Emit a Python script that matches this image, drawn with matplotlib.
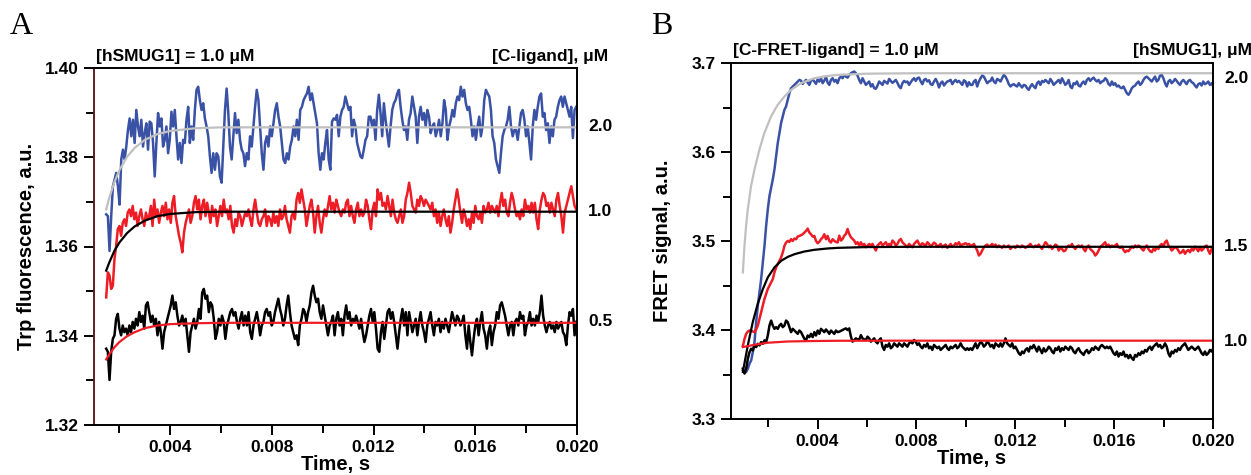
import numpy as np
import matplotlib
matplotlib.use("Agg")
import matplotlib.pyplot as plt
from matplotlib.ticker import FixedLocator
import matplotlib.transforms as mtransforms

# ---------------- Panel A data (Trp fluorescence) ----------------
a_t_start, a_t_end = 0.00148, 0.01997
a_blue = [1.3672, 1.3668, 1.3590, 1.3668, 1.3735, 1.3750, 1.3765, 1.3735, 1.3694, 1.3795, 1.3817, 1.3795, 1.3824, 1.3861, 1.3887, 1.3847, 1.3884, 1.3832, 1.3906, 1.3869, 1.3847, 1.3884, 1.3824, 1.3854, 1.3876, 1.3817, 1.3880, 1.3876, 1.3832, 1.3757, 1.3832, 1.3899, 1.3869, 1.3887, 1.3824, 1.3839, 1.3869, 1.3809, 1.3839, 1.3902, 1.3869, 1.3906, 1.3847, 1.3795, 1.3832, 1.3787, 1.3839, 1.3832, 1.3884, 1.3913, 1.3832, 1.3869, 1.3839, 1.3906, 1.3951, 1.3958, 1.3928, 1.3906, 1.3921, 1.3887, 1.3869, 1.3847, 1.3802, 1.3765, 1.3809, 1.3772, 1.3809, 1.3802, 1.3757, 1.3743, 1.3824, 1.3906, 1.3954, 1.3899, 1.3824, 1.3795, 1.3847, 1.3899, 1.3854, 1.3884, 1.3839, 1.3817, 1.3809, 1.3780, 1.3809, 1.3795, 1.3847, 1.3824, 1.3869, 1.3913, 1.3951, 1.3928, 1.3869, 1.3809, 1.3772, 1.3832, 1.3847, 1.3824, 1.3869, 1.3847, 1.3876, 1.3906, 1.3921, 1.3891, 1.3869, 1.3832, 1.3795, 1.3787, 1.3809, 1.3795, 1.3824, 1.3839, 1.3869, 1.3847, 1.3884, 1.3839, 1.3906, 1.3913, 1.3928, 1.3936, 1.3943, 1.3958, 1.3928, 1.3943, 1.3921, 1.3899, 1.3876, 1.3809, 1.3772, 1.3809, 1.3795, 1.3832, 1.3861, 1.3795, 1.3772, 1.3880, 1.3887,
          1.3884, 1.3895, 1.3847, 1.3891, 1.3906, 1.3913, 1.3936, 1.3921, 1.3906, 1.3913, 1.3847, 1.3884, 1.3869, 1.3832, 1.3817, 1.3802, 1.3798, 1.3817, 1.3839, 1.3847, 1.3891, 1.3891, 1.3869, 1.3884, 1.3839, 1.3906, 1.3940, 1.3899, 1.3847, 1.3921, 1.3884, 1.3854, 1.3824, 1.3869, 1.3906, 1.3921, 1.3928, 1.3943, 1.3951, 1.3913, 1.3884, 1.3861, 1.3869, 1.3839, 1.3884, 1.3899, 1.3936, 1.3913, 1.3891, 1.3832, 1.3891, 1.3913, 1.3884, 1.3899, 1.3869, 1.3906, 1.3891, 1.3854, 1.3869, 1.3876, 1.3847, 1.3861, 1.3884, 1.3847, 1.3876, 1.3928, 1.3906, 1.3839, 1.3869, 1.3884, 1.3906, 1.3891, 1.3921, 1.3936, 1.3928, 1.3958, 1.3936, 1.3951, 1.3921, 1.3906, 1.3913, 1.3884, 1.3847, 1.3869, 1.3839, 1.3869, 1.3891, 1.3847, 1.3869, 1.3928, 1.3951, 1.3943, 1.3936, 1.3906, 1.3847, 1.3832, 1.3795, 1.3780, 1.3765, 1.3809, 1.3847, 1.3861, 1.3869, 1.3884, 1.3913, 1.3869, 1.3847, 1.3861, 1.3861, 1.3839, 1.3869, 1.3899, 1.3906, 1.3884, 1.3847, 1.3869, 1.3832, 1.3795, 1.3869, 1.3906, 1.3884, 1.3913, 1.3936, 1.3943, 1.3891, 1.3899, 1.3861, 1.3876, 1.3832, 1.3869, 1.3847, 1.3884, 1.3891, 1.3913, 1.3928, 1.3936, 1.3913, 1.3936, 1.3921, 1.3906, 1.3891, 1.3913, 1.3843, 1.3906, 1.3913]
a_red = [1.3486, 1.3542, 1.3535, 1.3505, 1.3512, 1.3572, 1.3601, 1.3639, 1.3646, 1.3624, 1.3653, 1.3661, 1.3646, 1.3676, 1.3683, 1.3668, 1.3691, 1.3661, 1.3676, 1.3646, 1.3668, 1.3683, 1.3661, 1.3646, 1.3676, 1.3661, 1.3668, 1.3691, 1.3646, 1.3705, 1.3668, 1.3683, 1.3653, 1.3676, 1.3691, 1.3668, 1.3698, 1.3661, 1.3683, 1.3653, 1.3698, 1.3713, 1.3668, 1.3646, 1.3624, 1.3609, 1.3587, 1.3631, 1.3653, 1.3668, 1.3683, 1.3653, 1.3668, 1.3698, 1.3713, 1.3683, 1.3705, 1.3661, 1.3691, 1.3705, 1.3668, 1.3698, 1.3676, 1.3653, 1.3691, 1.3668, 1.3683, 1.3646, 1.3668, 1.3691, 1.3668, 1.3705, 1.3676, 1.3683, 1.3661, 1.3691, 1.3646, 1.3631, 1.3661, 1.3646, 1.3676, 1.3668, 1.3646, 1.3661, 1.3676, 1.3668, 1.3683, 1.3661, 1.3646, 1.3683, 1.3705, 1.3676, 1.3653, 1.3646, 1.3661, 1.3668, 1.3683, 1.3646, 1.3668, 1.3661, 1.3646, 1.3676, 1.3653, 1.3668, 1.3646, 1.3683, 1.3661, 1.3668, 1.3691, 1.3661, 1.3646, 1.3631, 1.3668, 1.3676, 1.3661, 1.3705, 1.3720, 1.3698, 1.3728, 1.3705, 1.3683, 1.3646, 1.3668, 1.3691, 1.3705, 1.3676, 1.3631, 1.3668, 1.3691, 1.3653, 1.3631, 1.3661, 1.3683, 1.3668, 1.3691, 1.3713, 1.3683, 1.3698, 1.3676, 1.3705,
         1.3691, 1.3676, 1.3668, 1.3683, 1.3676, 1.3698, 1.3705, 1.3668, 1.3691, 1.3668, 1.3653, 1.3683, 1.3698, 1.3668, 1.3683, 1.3668, 1.3676, 1.3705, 1.3691, 1.3661, 1.3639, 1.3683, 1.3698, 1.3668, 1.3728, 1.3705, 1.3720, 1.3691, 1.3698, 1.3683, 1.3713, 1.3691, 1.3668, 1.3705, 1.3676, 1.3661, 1.3653, 1.3668, 1.3683, 1.3653, 1.3668, 1.3705, 1.3720, 1.3743, 1.3720, 1.3691, 1.3683, 1.3676, 1.3705, 1.3691, 1.3713, 1.3705, 1.3691, 1.3705, 1.3698, 1.3691, 1.3683, 1.3698, 1.3668, 1.3683, 1.3653, 1.3676, 1.3646, 1.3668, 1.3683, 1.3661, 1.3646, 1.3668, 1.3631, 1.3653, 1.3683, 1.3705, 1.3728, 1.3705, 1.3676, 1.3653, 1.3683, 1.3668, 1.3646, 1.3661, 1.3639, 1.3676, 1.3653, 1.3691, 1.3668, 1.3661, 1.3676, 1.3653, 1.3691, 1.3676, 1.3683, 1.3698, 1.3676, 1.3691, 1.3683, 1.3676, 1.3691, 1.3668, 1.3698, 1.3720, 1.3691, 1.3705, 1.3676, 1.3668, 1.3698, 1.3720, 1.3705, 1.3683, 1.3668, 1.3676, 1.3661, 1.3683, 1.3668, 1.3705, 1.3683, 1.3691, 1.3676, 1.3698, 1.3676, 1.3698, 1.3661, 1.3639, 1.3683, 1.3705, 1.3720, 1.3713, 1.3691, 1.3698, 1.3676, 1.3698, 1.3683, 1.3668, 1.3705, 1.3720, 1.3691, 1.3668, 1.3631, 1.3676, 1.3691, 1.3705, 1.3720, 1.3735, 1.3713, 1.3691, 1.3683]
a_black = [1.3371, 1.3364, 1.3301, 1.3364, 1.3393, 1.3401, 1.3438, 1.3449, 1.3416, 1.3401, 1.3423, 1.3408, 1.3416, 1.3401, 1.3423, 1.3408, 1.3431, 1.3416, 1.3438, 1.3423, 1.3453, 1.3431, 1.3445, 1.3416, 1.3468, 1.3475, 1.3453, 1.3431, 1.3445, 1.3423, 1.3438, 1.3401, 1.3431, 1.3408, 1.3371, 1.3408, 1.3423, 1.3438, 1.3453, 1.3468, 1.3490, 1.3460, 1.3475, 1.3445, 1.3423, 1.3431, 1.3445, 1.3423, 1.3438, 1.3401, 1.3364, 1.3408, 1.3423, 1.3438, 1.3416, 1.3431, 1.3460, 1.3438, 1.3497, 1.3505, 1.3483, 1.3490, 1.3453, 1.3475, 1.3468, 1.3438, 1.3393, 1.3408, 1.3438, 1.3423, 1.3445, 1.3431, 1.3393, 1.3423, 1.3438, 1.3453, 1.3460, 1.3445, 1.3453, 1.3431, 1.3416, 1.3438, 1.3453, 1.3423, 1.3445, 1.3423, 1.3453, 1.3408, 1.3393, 1.3423, 1.3438, 1.3453, 1.3431, 1.3401, 1.3423, 1.3431, 1.3453, 1.3460, 1.3445, 1.3453, 1.3423, 1.3431, 1.3453, 1.3468, 1.3483, 1.3460, 1.3445, 1.3423, 1.3438, 1.3468, 1.3490, 1.3453, 1.3423, 1.3408, 1.3393, 1.3401, 1.3379, 1.3423, 1.3438, 1.3460, 1.3453, 1.3431, 1.3453, 1.3468, 1.3497, 1.3512, 1.3490, 1.3475, 1.3483, 1.3453, 1.3438, 1.3468, 1.3445, 1.3423, 1.3401, 1.3423, 1.3431, 1.3445, 1.3401, 1.3438,
           1.3453, 1.3423, 1.3438, 1.3401, 1.3445, 1.3468, 1.3438, 1.3453, 1.3423, 1.3438, 1.3431, 1.3445, 1.3431, 1.3416, 1.3438, 1.3408, 1.3386, 1.3401, 1.3423, 1.3445, 1.3460, 1.3431, 1.3453, 1.3416, 1.3371, 1.3364, 1.3408, 1.3431, 1.3393, 1.3423, 1.3453, 1.3460, 1.3438, 1.3453, 1.3431, 1.3401, 1.3371, 1.3408, 1.3438, 1.3460, 1.3423, 1.3453, 1.3401, 1.3453, 1.3431, 1.3408, 1.3423, 1.3438, 1.3401, 1.3431, 1.3453, 1.3423, 1.3408, 1.3386, 1.3423, 1.3438, 1.3453, 1.3423, 1.3401, 1.3431, 1.3423, 1.3438, 1.3408, 1.3431, 1.3416, 1.3438, 1.3423, 1.3408, 1.3431, 1.3453, 1.3438, 1.3423, 1.3445, 1.3438, 1.3423, 1.3431, 1.3445, 1.3401, 1.3371, 1.3423, 1.3386, 1.3356, 1.3393, 1.3423, 1.3438, 1.3401, 1.3431, 1.3453, 1.3416, 1.3401, 1.3371, 1.3408, 1.3423, 1.3379, 1.3408, 1.3423, 1.3453, 1.3438, 1.3468, 1.3475, 1.3460, 1.3445, 1.3423, 1.3401, 1.3423, 1.3431, 1.3401, 1.3431, 1.3438, 1.3423, 1.3453, 1.3438, 1.3445, 1.3401, 1.3423, 1.3431, 1.3453, 1.3423, 1.3438, 1.3423, 1.3445, 1.3431, 1.3453, 1.3490, 1.3445, 1.3423, 1.3408, 1.3423, 1.3431, 1.3416, 1.3423, 1.3408, 1.3431, 1.3416, 1.3423, 1.3431, 1.3408, 1.3401, 1.3379, 1.3423, 1.3453, 1.3445, 1.3460, 1.3401, 1.3431]

a_fit_t = [0.00148, 0.0016, 0.0018, 0.0020, 0.0023, 0.0026, 0.0030, 0.0035, 0.0040, 0.0050, 0.0060, 0.0080, 0.0200]
a_fit_gray = [1.3683, 1.3709, 1.3744, 1.3771, 1.3801, 1.3821, 1.3839, 1.3852, 1.3859, 1.3865, 1.3867, 1.3867, 1.3867]
a_fit_black = [1.3546, 1.3564, 1.3590, 1.3609, 1.3630, 1.3645, 1.3658, 1.3668, 1.3673, 1.3677, 1.3678, 1.3678, 1.3678]
a_fit_red = [1.3347, 1.3358, 1.3374, 1.3386, 1.3399, 1.3408, 1.3417, 1.3423, 1.3426, 1.3428, 1.3429, 1.3429, 1.3429]
a_conc_labels = ["2.0", "1.0", "0.5"]
a_conc_levels = [1.3870, 1.3678, 1.3431]

# ---------------- Panel B data (FRET signal) ----------------
b_t_start, b_t_end = 0.00098, 0.02001
b_blue = [3.3547, 3.3528, 3.3528, 3.3566, 3.3622, 3.3659, 3.3752, 3.3864, 3.4088, 3.4274, 3.4423, 3.4572, 3.4759, 3.4945, 3.5169, 3.5355, 3.5505, 3.5598, 3.5691, 3.5803, 3.5952, 3.6101, 3.6213, 3.6325, 3.6400, 3.6474, 3.6512, 3.6586, 3.6661, 3.6717, 3.6735, 3.6754, 3.6773, 3.6791, 3.6810, 3.6802, 3.6765, 3.6791, 3.6810, 3.6780, 3.6754, 3.6802, 3.6817, 3.6791, 3.6765, 3.6817, 3.6791, 3.6829, 3.6773, 3.6802, 3.6847, 3.6780, 3.6754, 3.6810, 3.6829, 3.6791, 3.6810, 3.6773,
          3.6829, 3.6847, 3.6829, 3.6866, 3.6847, 3.6836, 3.6866, 3.6885, 3.6896, 3.6904, 3.6885, 3.6858, 3.6810, 3.6773, 3.6829, 3.6792, 3.6754, 3.6773, 3.6792, 3.6736, 3.6762, 3.6717, 3.6710, 3.6747, 3.6792, 3.6773, 3.6754, 3.6799, 3.6784, 3.6769, 3.6821, 3.6799, 3.6777, 3.6792, 3.6810, 3.6777, 3.6736, 3.6717, 3.6773, 3.6799, 3.6784, 3.6792, 3.6754, 3.6784, 3.6810, 3.6829, 3.6799, 3.6829, 3.6836, 3.6792, 3.6762, 3.6810, 3.6821, 3.6792, 3.6806, 3.6762, 3.6754, 3.6792, 3.6821, 3.6784, 3.6725, 3.6773, 3.6792, 3.6747, 3.6773, 3.6792, 3.6799, 3.6810, 3.6762, 3.6792, 3.6810, 3.6784, 3.6799, 3.6777, 3.6754, 3.6806, 3.6792, 3.6736, 3.6784, 3.6754,
          3.6754, 3.6792, 3.6810, 3.6736, 3.6792, 3.6829, 3.6859, 3.6847, 3.6810, 3.6773, 3.6792, 3.6799, 3.6836, 3.6792, 3.6773, 3.6821, 3.6810, 3.6792, 3.6829, 3.6866, 3.6847, 3.6810, 3.6762, 3.6736, 3.6754, 3.6762, 3.6747, 3.6736, 3.6773, 3.6747, 3.6725, 3.6754, 3.6747, 3.6717, 3.6698, 3.6736, 3.6762, 3.6736, 3.6717, 3.6773, 3.6792, 3.6754, 3.6799, 3.6785, 3.6810, 3.6792, 3.6773, 3.6821, 3.6792, 3.6754, 3.6773, 3.6792, 3.6810, 3.6773, 3.6829, 3.6792, 3.6754, 3.6773, 3.6810, 3.6736, 3.6717, 3.6773, 3.6762, 3.6792, 3.6747, 3.6736, 3.6773, 3.6792, 3.6762, 3.6810, 3.6829, 3.6799, 3.6821, 3.6836, 3.6810, 3.6792, 3.6810, 3.6773, 3.6792, 3.6799, 3.6829, 3.6810, 3.6762, 3.6747, 3.6792, 3.6754, 3.6773, 3.6736, 3.6747, 3.6725, 3.6717, 3.6736, 3.6698, 3.6661, 3.6643, 3.6672, 3.6717, 3.6736, 3.6747, 3.6773, 3.6792, 3.6754, 3.6773, 3.6810, 3.6836, 3.6847, 3.6829, 3.6810, 3.6792, 3.6821, 3.6847, 3.6792, 3.6810, 3.6859, 3.6866, 3.6829, 3.6773, 3.6736, 3.6792, 3.6810, 3.6773, 3.6792, 3.6821, 3.6799, 3.6773, 3.6754, 3.6792, 3.6810, 3.6785, 3.6762, 3.6799, 3.6810, 3.6785, 3.6773, 3.6747, 3.6725, 3.6762, 3.6773, 3.6747, 3.6792, 3.6762, 3.6773, 3.6792, 3.6754, 3.6773, 3.6736]
b_red = [3.3819, 3.3901, 3.3957, 3.3983, 3.3994, 3.3994, 3.3983, 3.3976, 3.4006, 3.4050, 3.4125, 3.4200, 3.4274, 3.4349, 3.4405, 3.4461, 3.4498, 3.4535, 3.4572, 3.4647, 3.4703, 3.4740, 3.4778, 3.4815, 3.4871, 3.4945, 3.4983, 3.5001, 3.4990, 3.5020, 3.5001, 3.5027, 3.5020, 3.5050, 3.5057, 3.5065, 3.5076, 3.5095, 3.5113, 3.5139, 3.5095, 3.5076, 3.5050, 3.5057, 3.5001, 3.4975, 3.4990, 3.5020, 3.5039, 3.5076, 3.5020, 3.5057, 3.5001, 3.4983, 3.5020, 3.5001, 3.4990, 3.4983,
         3.5060, 3.5005, 3.5023, 3.5060, 3.5079, 3.5135, 3.5079, 3.5042, 3.5023, 3.5005, 3.4967, 3.4986, 3.4949, 3.4986, 3.4949, 3.4967, 3.4930, 3.4949, 3.4967, 3.4949, 3.4967, 3.4930, 3.4893, 3.4949, 3.4967, 3.4986, 3.4949, 3.4967, 3.4986, 3.4949, 3.4967, 3.4949, 3.5005, 3.4986, 3.4949, 3.4967, 3.5005, 3.5023, 3.4986, 3.4967, 3.4949, 3.4930, 3.4967, 3.4949, 3.4930, 3.4967, 3.4986, 3.5005, 3.4967, 3.4949, 3.4975, 3.4960, 3.4949, 3.4986, 3.4967, 3.4937, 3.4960, 3.4982, 3.4967, 3.4937, 3.4949, 3.4967, 3.4930, 3.4949, 3.4960, 3.4923, 3.4945, 3.4967, 3.4937, 3.4949, 3.4975, 3.4960, 3.4986, 3.4949, 3.4960, 3.4967, 3.4975, 3.4960, 3.4967, 3.4949,
         3.4949, 3.4967, 3.4930, 3.4893, 3.4837, 3.4856, 3.4893, 3.4930, 3.4949, 3.4960, 3.4937, 3.4949, 3.4967, 3.4937, 3.4960, 3.4930, 3.4949, 3.4937, 3.4923, 3.4949, 3.4930, 3.4937, 3.4949, 3.4911, 3.4930, 3.4937, 3.4923, 3.4949, 3.4937, 3.4930, 3.4949, 3.4937, 3.4923, 3.4937, 3.4949, 3.4967, 3.4937, 3.4930, 3.4949, 3.4937, 3.4960, 3.4930, 3.4911, 3.4949, 3.4986, 3.4967, 3.4930, 3.4949, 3.4911, 3.4930, 3.4960, 3.4949, 3.4893, 3.4923, 3.4911, 3.4885, 3.4893, 3.4930, 3.4949, 3.4937, 3.4967, 3.4930, 3.4911, 3.4937, 3.4949, 3.4930, 3.4949, 3.4911, 3.4885, 3.4930, 3.4949, 3.4911, 3.4893, 3.4874, 3.4837, 3.4856, 3.4893, 3.4930, 3.4949, 3.4967, 3.4986, 3.4937, 3.4960, 3.4930, 3.4949, 3.4937, 3.4949, 3.4967, 3.4930, 3.4923, 3.4937, 3.4900, 3.4874, 3.4893, 3.4885, 3.4911, 3.4937, 3.4923, 3.4949, 3.4930, 3.4949, 3.4937, 3.4911, 3.4893, 3.4930, 3.4949, 3.4911, 3.4885, 3.4874, 3.4911, 3.4893, 3.4930, 3.4911, 3.4949, 3.4967, 3.4937, 3.4986, 3.5005, 3.4949, 3.4930, 3.4893, 3.4911, 3.4930, 3.4923, 3.4893, 3.4863, 3.4874, 3.4900, 3.4856, 3.4885, 3.4900, 3.4874, 3.4911, 3.4893, 3.4937, 3.4911, 3.4885, 3.4930, 3.4893, 3.4911, 3.4937, 3.4949, 3.4893, 3.4856, 3.4911, 3.4949]
b_black = [3.3566, 3.3510, 3.3566, 3.3677, 3.3752, 3.3789, 3.3771, 3.3827, 3.3808, 3.3845, 3.3827, 3.3864, 3.3845, 3.3883, 3.3864, 3.3938, 3.4050, 3.4106, 3.4050, 3.4013, 3.4032, 3.4013, 3.4050, 3.4069, 3.4032, 3.4050, 3.4106, 3.4088, 3.4032, 3.3976, 3.4013, 3.3994, 3.3976, 3.3957, 3.3994, 3.3976, 3.3938, 3.3901, 3.3883, 3.3938, 3.3920, 3.3957, 3.3920, 3.3976, 3.3938, 3.3994, 3.3957, 3.4013, 3.3994, 3.3976, 3.4006, 3.3983, 3.3957, 3.3994, 3.3976, 3.3957, 3.3994, 3.3976,
           3.3981, 3.3990, 3.4000, 3.4010, 3.4018, 3.4000, 3.4018, 3.3925, 3.3869, 3.3888, 3.3906, 3.3895, 3.3888, 3.3943, 3.3906, 3.3895, 3.3888, 3.3925, 3.3906, 3.3869, 3.3888, 3.3906, 3.3869, 3.3850, 3.3888, 3.3906, 3.3813, 3.3776, 3.3832, 3.3813, 3.3850, 3.3795, 3.3813, 3.3850, 3.3832, 3.3813, 3.3850, 3.3832, 3.3813, 3.3850, 3.3832, 3.3813, 3.3850, 3.3869, 3.3850, 3.3888, 3.3869, 3.3832, 3.3850, 3.3813, 3.3795, 3.3832, 3.3813, 3.3850, 3.3795, 3.3813, 3.3776, 3.3832, 3.3813, 3.3795, 3.3813, 3.3776, 3.3795, 3.3813, 3.3832, 3.3795, 3.3776, 3.3813, 3.3795, 3.3813, 3.3832, 3.3795, 3.3813, 3.3850, 3.3813, 3.3795, 3.3776, 3.3795, 3.3776, 3.3795,
           3.3776, 3.3813, 3.3850, 3.3795, 3.3832, 3.3869, 3.3850, 3.3813, 3.3832, 3.3869, 3.3850, 3.3813, 3.3832, 3.3795, 3.3850, 3.3832, 3.3813, 3.3850, 3.3813, 3.3850, 3.3906, 3.3850, 3.3832, 3.3813, 3.3850, 3.3795, 3.3813, 3.3776, 3.3739, 3.3720, 3.3758, 3.3739, 3.3776, 3.3795, 3.3758, 3.3813, 3.3795, 3.3832, 3.3795, 3.3758, 3.3813, 3.3776, 3.3739, 3.3795, 3.3758, 3.3776, 3.3813, 3.3795, 3.3758, 3.3739, 3.3795, 3.3776, 3.3813, 3.3758, 3.3795, 3.3776, 3.3813, 3.3795, 3.3776, 3.3813, 3.3795, 3.3758, 3.3739, 3.3776, 3.3795, 3.3758, 3.3739, 3.3720, 3.3758, 3.3776, 3.3739, 3.3758, 3.3795, 3.3776, 3.3813, 3.3795, 3.3776, 3.3813, 3.3832, 3.3813, 3.3795, 3.3813, 3.3795, 3.3813, 3.3776, 3.3739, 3.3720, 3.3758, 3.3702, 3.3739, 3.3720, 3.3758, 3.3702, 3.3720, 3.3683, 3.3720, 3.3683, 3.3664, 3.3720, 3.3702, 3.3739, 3.3720, 3.3758, 3.3739, 3.3776, 3.3758, 3.3795, 3.3813, 3.3776, 3.3813, 3.3832, 3.3850, 3.3813, 3.3832, 3.3795, 3.3813, 3.3850, 3.3813, 3.3739, 3.3702, 3.3758, 3.3739, 3.3776, 3.3758, 3.3795, 3.3776, 3.3813, 3.3832, 3.3850, 3.3813, 3.3776, 3.3795, 3.3813, 3.3795, 3.3776, 3.3795, 3.3813, 3.3776, 3.3739, 3.3720, 3.3758, 3.3720, 3.3739, 3.3776, 3.3758, 3.3795]

b_gray_t = [0.00098, 0.001045, 0.00111, 0.00118, 0.00131, 0.00145, 0.00165, 0.00185, 0.00212, 0.00239, 0.00266, 0.00293, 0.00333, 0.00387, 0.00441, 0.00482, 0.0060, 0.0080, 0.0200]
b_fit_gray = [3.4647, 3.4945, 3.5169, 3.5356, 3.5616, 3.5803, 3.6027, 3.6213, 3.6400, 3.6530, 3.6623, 3.6698, 3.6773, 3.6829, 3.6855, 3.6866, 3.6880, 3.6885, 3.6885]
b_black_t = [0.00098, 0.00118, 0.00138, 0.00158, 0.00179, 0.00199, 0.00226, 0.00253, 0.00280, 0.00307, 0.00347, 0.00387, 0.00441, 0.00482, 0.0060, 0.0080, 0.0200]
b_fit_black = [3.3529, 3.3827, 3.4088, 3.4293, 3.4461, 3.4592, 3.4704, 3.4778, 3.4822, 3.4852, 3.4882, 3.4901, 3.4916, 3.4923, 3.4932, 3.4935, 3.4935]
b_red_t = [0.00098, 0.00145, 0.00199, 0.00280, 0.00380, 0.00480, 0.0070, 0.0200]
b_fit_red = [3.3808, 3.3834, 3.3857, 3.3871, 3.3876, 3.3879, 3.3880, 3.3880]
b_conc_labels = ["2.0", "1.5", "1.0"]
b_conc_levels = [3.6830, 3.4935, 3.3872]

x_major = [0.004, 0.008, 0.012, 0.016, 0.020]
x_minor = [0.002, 0.006, 0.010, 0.014, 0.018]

# ---------------- styling ----------------
plt.rcParams['font.family'] = ['Liberation Sans', 'DejaVu Sans']
plt.rcParams['font.weight'] = 'bold'
BLUE = '#3a52a6'
RED = '#ee1c25'
GRAY = '#c0c0c0'
W, H = 1251, 475

fig = plt.figure(figsize=(W / 100, H / 100), dpi=100)
axA = fig.add_axes([94 / W, 1 - 425 / H, 483 / W, 357 / H])
axB = fig.add_axes([731 / W, 1 - 419 / H, 482 / W, 356 / H])


def style(ax, ymaj, ymin, yfmt):
    ax.xaxis.set_major_locator(FixedLocator(x_major))
    ax.xaxis.set_minor_locator(FixedLocator(x_minor))
    ax.set_xticklabels(['%.3f' % v for v in x_major])
    ax.yaxis.set_major_locator(FixedLocator(ymaj))
    ax.yaxis.set_minor_locator(FixedLocator(ymin))
    ax.set_yticklabels([yfmt % v for v in ymaj])
    ax.tick_params(which='both', direction='out', top=False, right=False,
                   width=1.4, labelsize=12.5, pad=4)
    ax.tick_params(which='major', length=7)
    ax.tick_params(which='minor', length=5.5)
    for lab in ax.get_xticklabels() + ax.get_yticklabels():
        lab.set_fontweight('bold')
    for s in ax.spines.values():
        s.set_linewidth(1.4)
    ax.set_xlabel('Time, s', fontsize=14.5, fontweight='bold', labelpad=0)


# ---- Panel A ----
tA = np.linspace(a_t_start, a_t_end, len(a_blue))
tAr = np.linspace(a_t_start, a_t_end, len(a_red))
tAk = np.linspace(a_t_start, a_t_end, len(a_black))
axA.plot(tA, a_blue, color=BLUE, lw=1.8)
axA.plot(tAr, a_red, color=RED, lw=1.8)
axA.plot(tAk, a_black, color='black', lw=1.8)
axA.plot(a_fit_t, a_fit_gray, color=GRAY, lw=1.6)
axA.plot(a_fit_t, a_fit_black, color='black', lw=1.6)
axA.plot(a_fit_t, a_fit_red, color=RED, lw=1.6)
axA.set_xlim(0.001, 0.020)
axA.set_ylim(1.32, 1.40)
style(axA, [1.32, 1.34, 1.36, 1.38, 1.40], [1.33, 1.35, 1.37, 1.39], '%.2f')
axA.spines['left'].set_color('#5e1f1f')
axA.set_ylabel('Trp fluorescence, a.u.', fontsize=14.5, fontweight='bold', labelpad=6)
transA = mtransforms.blended_transform_factory(axA.transAxes, axA.transData)
for lab, lev in zip(a_conc_labels, a_conc_levels):
    axA.text(1.023, lev, lab, transform=transA, ha='left', va='center',
             fontsize=12.5, fontweight='bold')
axA.text(0.004, 1.012, '[hSMUG1] = 1.0 \u03bcM', transform=axA.transAxes, ha='left',
         va='bottom', fontsize=12.5, fontweight='bold')
axA.text(1.065, 1.012, '[C-ligand], \u03bcM', transform=axA.transAxes, ha='right',
         va='bottom', fontsize=12.5, fontweight='bold')

# ---- Panel B ----
tB = np.linspace(b_t_start, b_t_end, len(b_blue))
tBr = np.linspace(b_t_start, b_t_end, len(b_red))
tBk = np.linspace(b_t_start, b_t_end, len(b_black))
axB.plot(tB, b_blue, color=BLUE, lw=1.8)
axB.plot(tBr, b_red, color=RED, lw=1.8)
axB.plot(tBk, b_black, color='black', lw=1.8)
axB.plot(b_gray_t, b_fit_gray, color=GRAY, lw=1.6)
axB.plot(b_black_t, b_fit_black, color='black', lw=1.6)
axB.plot(b_red_t, b_fit_red, color=RED, lw=1.6)
axB.set_xlim(0.0005, 0.020)
axB.set_ylim(3.3, 3.7)
style(axB, [3.3, 3.4, 3.5, 3.6, 3.7], [3.35, 3.45, 3.55, 3.65], '%.1f')
axB.set_ylabel('FRET signal, a.u.', fontsize=14.5, fontweight='bold', labelpad=14)
transB = mtransforms.blended_transform_factory(axB.transAxes, axB.transData)
for lab, lev in zip(b_conc_labels, b_conc_levels):
    axB.text(1.023, lev, lab, transform=transB, ha='left', va='center',
             fontsize=12.5, fontweight='bold')
axB.text(0.004, 1.014, '[C-FRET-ligand] = 1.0 \u03bcM', transform=axB.transAxes, ha='left',
         va='bottom', fontsize=12.5, fontweight='bold')
axB.text(1.08, 1.014, '[hSMUG1], \u03bcM', transform=axB.transAxes, ha='right',
         va='bottom', fontsize=12.5, fontweight='bold')

# panel letters
fig.text(10 / W, 1 - 34 / H, 'A', fontsize=23, family='Liberation Serif',
         fontweight='normal', ha='left', va='baseline')
fig.text(651 / W, 1 - 34 / H, 'B', fontsize=23, family='Liberation Serif',
         fontweight='normal', ha='left', va='baseline')

fig.savefig('out.png', dpi=100)
